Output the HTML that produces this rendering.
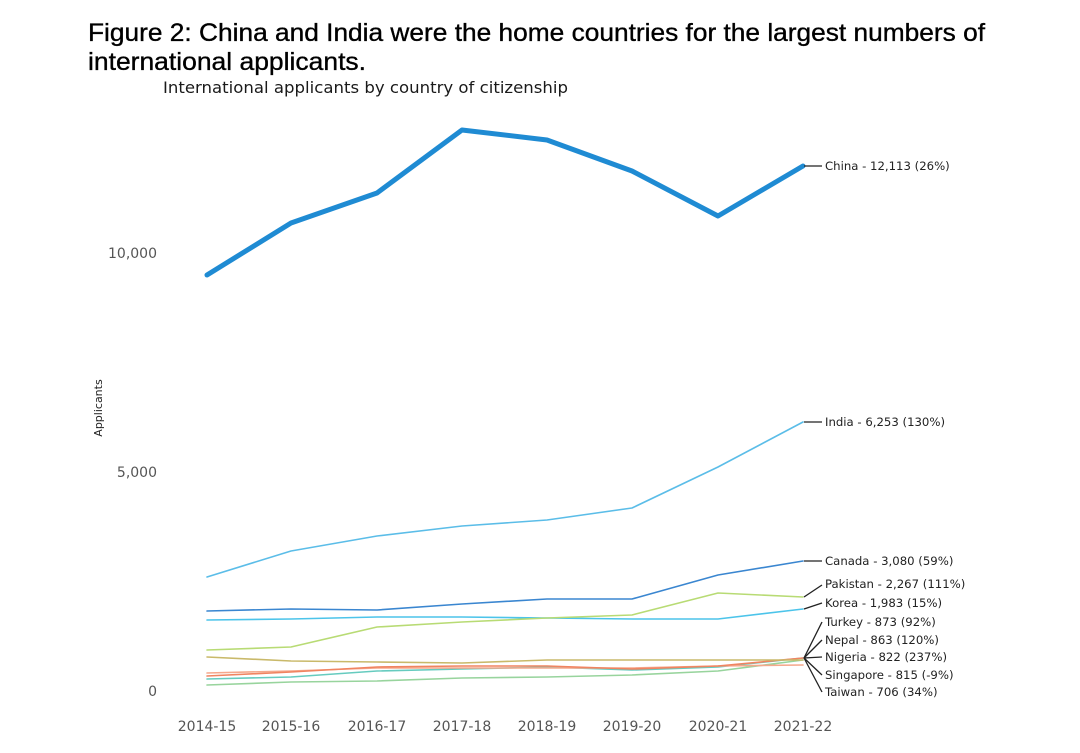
<!DOCTYPE html>
<html>
<head>
<meta charset="utf-8">
<style>
html,body{margin:0;padding:0;background:#fff;}
svg{display:block;}
.t{font-family:"Liberation Sans",Arial,sans-serif;font-size:25px;fill:#000;stroke:#000;stroke-width:0.35;}
.s{font-family:"DejaVu Sans","Liberation Sans",sans-serif;font-size:16px;fill:#1a1a1a;}
.tk{font-family:"DejaVu Sans","Liberation Sans",sans-serif;font-size:14px;fill:#555;}
.lb{font-family:"DejaVu Sans","Liberation Sans",sans-serif;font-size:11.7px;fill:#222;}
.ax{font-family:"DejaVu Sans","Liberation Sans",sans-serif;font-size:11px;fill:#222;}
</style>
</head>
<body>
<svg width="1080" height="753" viewBox="0 0 1080 753" xmlns="http://www.w3.org/2000/svg">
<rect width="1080" height="753" fill="#fff"/>
<text class="t" x="88" y="41" textLength="897" lengthAdjust="spacingAndGlyphs">Figure 2: China and India were the home countries for the largest numbers of</text>
<text class="t" x="88" y="70" textLength="278" lengthAdjust="spacingAndGlyphs">international applicants.</text>
<text class="s" x="163" y="93" textLength="405" lengthAdjust="spacingAndGlyphs">International applicants by country of citizenship</text>

<!-- y ticks -->
<text class="tk" x="157" y="258" text-anchor="end">10,000</text>
<text class="tk" x="157" y="477" text-anchor="end">5,000</text>
<text class="tk" x="157" y="696" text-anchor="end">0</text>
<text class="ax" transform="translate(102,408) rotate(-90)" text-anchor="middle">Applicants</text>

<!-- x ticks -->
<g class="tk" text-anchor="middle">
<text x="207" y="731">2014-15</text>
<text x="291" y="731">2015-16</text>
<text x="377" y="731">2016-17</text>
<text x="462" y="731">2017-18</text>
<text x="547" y="731">2018-19</text>
<text x="632" y="731">2019-20</text>
<text x="718" y="731">2020-21</text>
<text x="803" y="731">2021-22</text>
</g>

<g fill="none" stroke-linejoin="round" stroke-linecap="round">
<!-- small cluster -->
<polyline stroke="#98d49d" stroke-width="1.6" points="207,685 291,682 377,681 462,678 547,677 632,675 718,671 803,660"/>
<polyline stroke="#66cbbf" stroke-width="1.6" points="207,679 291,677 377,671 462,669 547,667 632,670 718,667 803,658"/>
<polyline stroke="#f5a88c" stroke-width="1.6" points="207,673 291,671 377,668 462,668 547,668 632,668 718,666 803,665"/>
<polyline stroke="#f08461" stroke-width="1.6" points="207,676 291,672 377,667 462,666 547,666 632,669 718,666 803,658"/>
<polyline stroke="#c9b96a" stroke-width="1.6" points="207,657 291,661 377,662 462,663 547,660 632,660 718,660 803,660"/>
<!-- Korea -->
<polyline stroke="#4cc4ea" stroke-width="1.6" points="207,620 291,619 377,617 462,617 547,618 632,619 718,619 803,609"/>
<!-- Pakistan -->
<polyline stroke="#b8db74" stroke-width="1.6" points="207,650 291,647 377,627 462,622 547,618 632,615 718,593 803,597"/>
<!-- Canada -->
<polyline stroke="#3a86d0" stroke-width="1.6" points="207,611 291,609 377,610 462,604 547,599 632,599 718,575 803,561"/>
<!-- India -->
<polyline stroke="#5bbde8" stroke-width="1.6" points="207,577 291,551 377,536 462,526 547,520 632,508 718,467 803,422"/>
<!-- China -->
<polyline stroke="#1f8bd3" stroke-width="5" points="207,275 291,223 377,193 462,130 547,140 632,171 718,216 803,166"/>
</g>

<!-- connectors -->
<g stroke="#222" stroke-width="1.3" fill="none">
<line x1="804" y1="166" x2="822" y2="166"/>
<line x1="804" y1="422" x2="822" y2="422"/>
<line x1="804" y1="561" x2="822" y2="561"/>
<line x1="804" y1="597" x2="822" y2="585"/>
<line x1="804" y1="609" x2="822" y2="603"/>
<line x1="804" y1="658" x2="822" y2="622"/>
<line x1="804" y1="658" x2="822" y2="640"/>
<line x1="804" y1="658" x2="822" y2="657"/>
<line x1="804" y1="658" x2="822" y2="675"/>
<line x1="804" y1="658" x2="822" y2="692"/>
</g>

<g class="lb">
<text x="825" y="170">China - 12,113 (26%)</text>
<text x="825" y="426">India - 6,253 (130%)</text>
<text x="825" y="565">Canada - 3,080 (59%)</text>
<text x="825" y="588">Pakistan - 2,267 (111%)</text>
<text x="825" y="607">Korea - 1,983 (15%)</text>
<text x="825" y="626">Turkey - 873 (92%)</text>
<text x="825" y="644">Nepal - 863 (120%)</text>
<text x="825" y="661">Nigeria - 822 (237%)</text>
<text x="825" y="679">Singapore - 815 (-9%)</text>
<text x="825" y="696">Taiwan - 706 (34%)</text>
</g>
</svg>
</body>
</html>
